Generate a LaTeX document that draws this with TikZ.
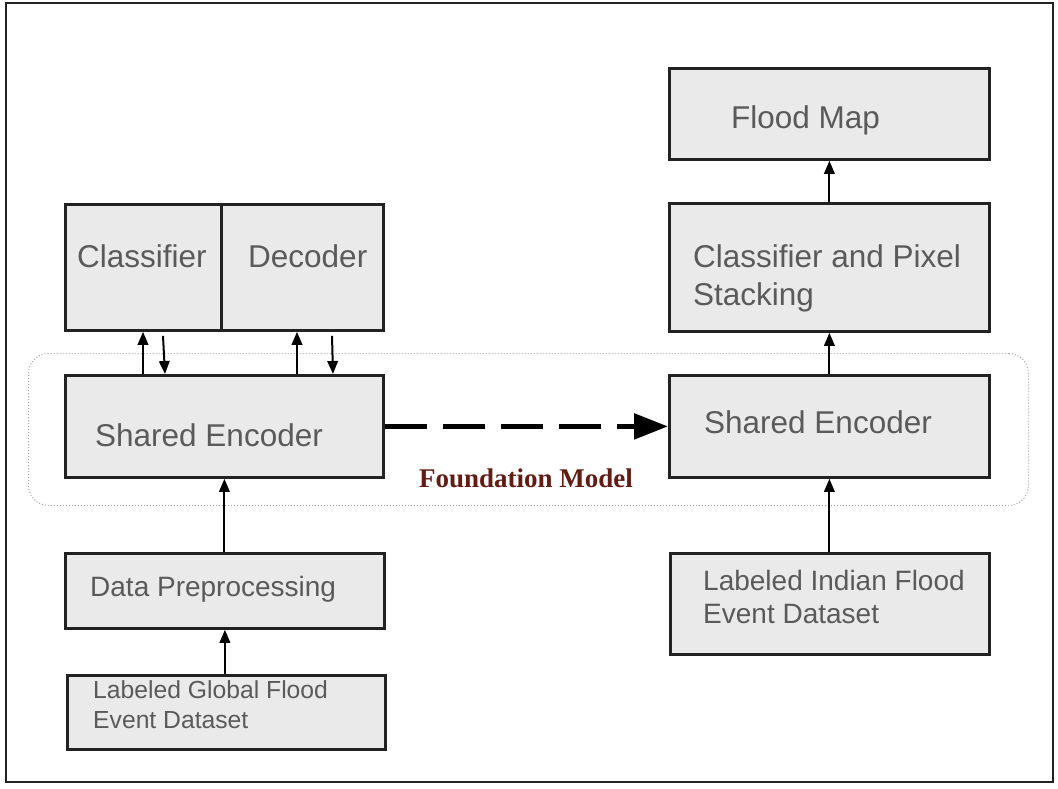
\documentclass[tikz,border=0pt]{standalone}
\usepackage{fontspec}
\setmainfont{Liberation Sans}
\newfontfamily\fmserif{Liberation Serif}
\usetikzlibrary{calc,arrows.meta}
\definecolor{boxgray}{HTML}{EAEAEA}
\definecolor{txtgray}{HTML}{5A5A5A}
\definecolor{bordc}{HTML}{222222}
\definecolor{fmred}{RGB}{98,28,20}
\begin{document}
\begin{tikzpicture}[x=1pt,y=-1pt,
  box/.style={draw=bordc, line width=2.8pt, fill=boxgray, inner sep=0pt, anchor=north west},
  txt/.style={anchor=base west, inner sep=0pt, text=txtgray},
  big/.style={font=\fontsize{31.5}{36}\selectfont},
  arr/.style={line width=2pt, draw=black, -{Triangle[length=13pt,width=10.5pt]}},
  fmframe/.style={draw=gray!70, dotted, line width=1pt, rounded corners=20pt, inner sep=0pt, anchor=north west}]
\useasboundingbox (0,0) rectangle (1058,788);
% outer frame
\draw[line width=2pt, draw=bordc] (6,3) rectangle (1053,782);
% foundation model region
\node[fmframe, minimum width=1000pt, minimum height=152pt] (fm) at (28,353) {};
% boxes
\node[box, minimum width=156pt, minimum height=126pt] (cls) at (64,203) {};
\node[box, minimum width=162pt, minimum height=126pt] (dec) at (220,203) {};
\node[box, minimum width=318pt, minimum height=102pt] (encL) at (64,374) {};
\node[box, minimum width=319pt, minimum height=75pt] (pre) at (64,552) {};
\node[box, minimum width=318pt, minimum height=74pt] (glob) at (66,674) {};
\node[box, minimum width=320pt, minimum height=91pt] (map) at (668,67) {};
\node[box, minimum width=320pt, minimum height=128pt] (cps) at (668,202) {};
\node[box, minimum width=320pt, minimum height=102pt] (encR) at (668,374) {};
\node[box, minimum width=319pt, minimum height=101pt] (ind) at (669,552) {};
% texts
\node[txt, big] (tcls) at (77,267) {Classifier};
\node[txt, big] (tdec) at (248,267) {Decoder};
\node[txt, big] (tencL) at (95,446) {Shared Encoder};
\node[txt, big] (tencR) at (704,433) {Shared Encoder};
\node[txt, big] (tmap) at (731,128) {Flood Map};
\node[txt, big] (tcps1) at (693,267) {Classifier and Pixel};
\node[txt, big] (tcps2) at (693,305) {Stacking};
\node[txt, font=\fontsize{28}{32}\selectfont] (tpre) at (90,596) {Data Preprocessing};
\node[txt, font=\fontsize{24.7}{28}\selectfont] (tglob1) at (93,698) {Labeled Global Flood};
\node[txt, font=\fontsize{24.7}{28}\selectfont] (tglob2) at (93,728) {Event Dataset};
\node[txt, font=\fontsize{28}{32}\selectfont] (tind1) at (703,590) {Labeled Indian Flood};
\node[txt, font=\fontsize{28}{32}\selectfont] (tind2) at (703,623) {Event Dataset};
\node[anchor=base west, inner sep=0pt, text=fmred, font=\fmserif\bfseries\fontsize{27}{30}\selectfont] (tfm) at (419,487) {Foundation Model};
% connectors
\draw[arr] ($(encL.north west)+(79,0)$) -- ($(cls.south west)+(79,0)$);
\draw[arr] ($(cls.south west)+(99,4)$) -- ($(encL.north west)+(101,0)$);
\draw[arr] ($(encL.north west)+(233,0)$) -- ($(dec.south west)+(77,0)$);
\draw[arr] ($(dec.south west)+(112,4)$) -- ($(encL.north west)+(269,0)$);
\draw[arr] (pre.north -| encL.south) -- (encL.south);
\draw[arr] (glob.north -| pre.south) -- (pre.south);
\draw[arr] (ind.north -| encR.south) -- (encR.south);
\draw[arr] (encR.north) -- (cps.south);
\draw[arr] (cps.north) -- (map.south);
\draw[line width=5.5pt, dash pattern=on 42pt off 16pt, -{Triangle[length=34pt,width=25pt]}] (encL.east) -- (encR.west);
\end{tikzpicture}
\end{document}
